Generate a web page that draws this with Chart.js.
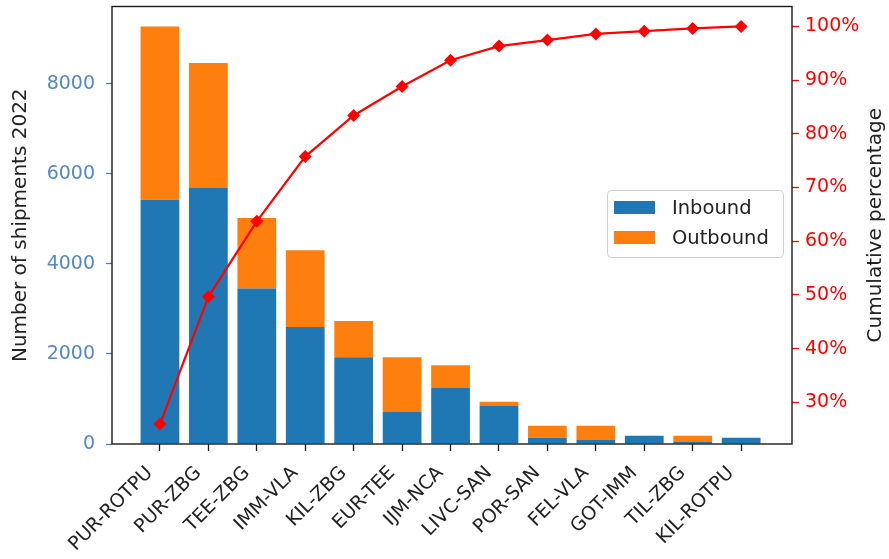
<!DOCTYPE html>
<html>
<head>
<meta charset="utf-8">
<title>Shipments 2022</title>
<script src="https://cdn.jsdelivr.net/npm/chart.js@4.4.0/dist/chart.umd.min.js"></script>
<style>
  html, body { margin: 0; padding: 0; background: #ffffff; }
  canvas { display: block; }
</style>
</head>
<body>
<canvas id="chart" width="889" height="559"></canvas>
<script>
// Shipments per route in 2022, split by direction
const routes = ['PUR-ROTPU', 'PUR-ZBG', 'TEE-ZBG', 'IMM-VLA', 'KIL-ZBG', 'EUR-TEE', 'IJM-NCA',
                'LIVC-SAN', 'POR-SAN', 'FEL-VLA', 'GOT-IMM', 'TIL-ZBG', 'KIL-ROTPU'];
const inbound  = [5424, 5696, 3455, 2602, 1925, 721, 1257, 853, 139, 88, 183, 44, 139];
const outbound = [3853, 2771, 1566, 1705, 809, 1204, 492, 88, 265, 316, 0, 139, 0];

// Axis tick values
const countTicks = [0, 2000, 4000, 6000, 8000];
const pctTicks = [30, 40, 50, 60, 70, 80, 90, 100];

// Pareto line: running share of all shipments
const totals = inbound.map((v, i) => v + outbound[i]);
const grandTotal = totals.reduce((a, b) => a + b, 0);
let running = 0;
const cumulativePct = totals.map(t => { running += t; return running / grandTotal * 100; });

const FONT = 'DejaVu Sans';
const BLUE = '#1f77b4';
const ORANGE = '#ff7f0e';

const asPoints = arr => arr.map((v, i) => ({ x: i, y: v }));

// Frame around the plot, the legend box and the right-hand axis title
const decorations = {
  id: 'decorations',
  afterDatasetsDraw(chart) {
    const { ctx, chartArea: a } = chart;
    ctx.save();
    ctx.strokeStyle = '#1a1a1a';
    ctx.lineWidth = 1.4;
    ctx.strokeRect(a.left, a.top, a.right - a.left, a.bottom - a.top);

    // legend
    const bx = 607.5, by = 190.5, bw = 176, bh = 67, r = 4;
    ctx.beginPath();
    ctx.moveTo(bx + r, by);
    ctx.arcTo(bx + bw, by, bx + bw, by + bh, r);
    ctx.arcTo(bx + bw, by + bh, bx, by + bh, r);
    ctx.arcTo(bx, by + bh, bx, by, r);
    ctx.arcTo(bx, by, bx + bw, by, r);
    ctx.closePath();
    ctx.fillStyle = 'rgba(255,255,255,0.8)';
    ctx.fill();
    ctx.strokeStyle = '#d0d0d0';
    ctx.lineWidth = 1;
    ctx.stroke();

    const bars = chart.data.datasets.filter(d => d.type !== 'line');
    ctx.font = '19.5px "' + FONT + '"';
    ctx.textBaseline = 'middle';
    ctx.textAlign = 'left';
    bars.forEach((d, i) => {
      const y = 207.5 + i * 30;
      ctx.fillStyle = d.backgroundColor;
      ctx.fillRect(614, y - 6.5, 41, 13);
      ctx.fillStyle = '#222222';
      ctx.fillText(d.label, 672, y + 1);
    });

    // right axis title, reading bottom to top
    ctx.translate(876, (a.top + a.bottom) / 2);
    ctx.rotate(-Math.PI / 2);
    ctx.textAlign = 'center';
    ctx.fillStyle = '#222222';
    ctx.font = '20px "' + FONT + '"';
    ctx.fillText('Cumulative percentage', 0, 0);
    ctx.restore();
  }
};

const noEdgePadding = scale => {
  scale.paddingTop = 0;
  scale.paddingBottom = 0;
  scale.paddingLeft = 0;
  scale.paddingRight = 0;
};

new Chart(document.getElementById('chart'), {
  type: 'bar',
  data: {
    datasets: [
      {
        label: 'Inbound',
        data: asPoints(inbound),
        backgroundColor: BLUE,
        yAxisID: 'y',
        order: 1,
        categoryPercentage: 1,
        barPercentage: 0.8
      },
      {
        label: 'Outbound',
        data: asPoints(outbound),
        backgroundColor: ORANGE,
        yAxisID: 'y',
        order: 1,
        categoryPercentage: 1,
        barPercentage: 0.8
      },
      {
        type: 'line',
        label: 'Cumulative percentage',
        data: asPoints(cumulativePct),
        yAxisID: 'y1',
        order: 0,
        borderColor: '#ff0000',
        borderWidth: 2.2,
        pointStyle: 'rectRot',
        pointRadius: 6.5,
        pointBackgroundColor: '#ff0000',
        pointBorderColor: '#ff0000',
        pointBorderWidth: 0,
        tension: 0,
        clip: false
      }
    ]
  },
  options: {
    responsive: false,
    animation: false,
    devicePixelRatio: 1,
    layout: { padding: { top: 4, left: 0, right: 0, bottom: 0 } },
    font: { family: FONT, size: 19 },
    plugins: {
      legend: { display: false },
      tooltip: { enabled: false }
    },
    scales: {
      x: {
        type: 'linear',
        stacked: true,
        offset: false,
        min: -0.99,
        max: 13.05,
        afterBuildTicks(scale) { scale.ticks = routes.map((_, i) => ({ value: i })); },
        afterFit(scale) { scale.height = 115; noEdgePadding(scale); },
        grid: { offset: false, drawOnChartArea: false, drawTicks: true, tickLength: 7, tickColor: '#1a1a1a', tickWidth: 1.3 },
        border: { display: false },
        ticks: {
          autoSkip: false,
          maxRotation: 45,
          minRotation: 45,
          padding: 11,
          labelOffset: -10,
          color: '#222222',
          font: { family: FONT, size: 19 },
          callback: v => routes[v] ?? ''
        }
      },
      y: {
        type: 'linear',
        position: 'left',
        stacked: true,
        min: 0,
        max: 9720,
        afterBuildTicks(scale) { scale.ticks = countTicks.map(v => ({ value: v })); },
        afterFit(scale) { scale.width = 112; noEdgePadding(scale); },
        grid: { drawOnChartArea: false, drawTicks: true, tickLength: 6, tickColor: '#4a7fb5', tickWidth: 1.3 },
        border: { display: false },
        ticks: {
          padding: 11,
          color: '#5289bf',
          font: { family: FONT, size: 19 },
          callback: v => String(v)
        },
        title: {
          display: true,
          text: 'Number of shipments 2022',
          color: '#222222',
          font: { family: FONT, size: 20 },
          padding: { top: 9, bottom: 0 }
        }
      },
      y1: {
        type: 'linear',
        position: 'right',
        min: 22.26,
        max: 103.7,
        afterBuildTicks(scale) { scale.ticks = pctTicks.map(v => ({ value: v })); },
        afterFit(scale) { scale.width = 97; noEdgePadding(scale); },
        grid: { drawOnChartArea: false, drawTicks: true, tickLength: 7, tickColor: '#ff0000', tickWidth: 1.3 },
        border: { display: false },
        ticks: {
          padding: 6,
          color: '#ff0000',
          font: { family: FONT, size: 19 },
          callback: v => v + '%'
        }
      }
    }
  },
  plugins: [decorations]
});
</script>
</body>
</html>
